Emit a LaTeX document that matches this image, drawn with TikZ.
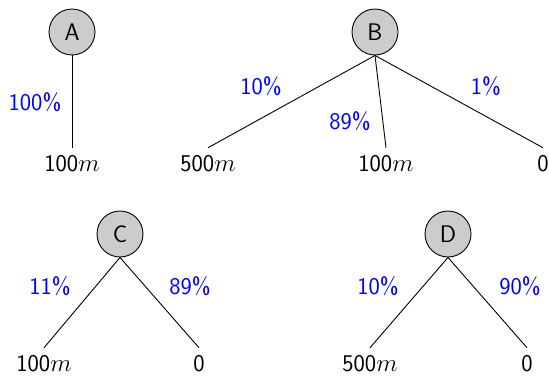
\documentclass[tikz,border=0pt]{standalone}
\begin{document}
\begin{tikzpicture}[x=1pt,y=-1pt,
  every node/.style={font=\fontsize{24pt}{29pt}\selectfont\sffamily},
  chance/.style={circle,draw,fill=black!20,line width=0.9pt,minimum size=46pt,inner sep=0pt},
  leaf/.style={inner sep=0pt,text height=15.5pt,text depth=0pt,outer xsep=0pt,outer ysep=8.5pt},
  prob/.style={text=blue,inner sep=0pt},
  edge/.style={line width=0.9pt}]
\useasboundingbox (0,0) rectangle (549,375);
% A
\node[chance] (A) at (72,32) {A};
\node[leaf] (a1) at (72,164) {100$m$};
\draw[edge] (A.south) -- (a1.north);
\node[prob] (pa1) at (35,102) {100\%};
% B
\node[chance] (B) at (375,32) {B};
\node[leaf] (b1) at (208,164) {500$m$};
\node[leaf] (b2) at (386,164) {100$m$};
\node[leaf] (b3) at (543,164) {0};
\draw[edge] (B.south) -- (b1.north);
\draw[edge] (B.south) -- (b2.north);
\draw[edge] (B.south) -- (b3.north);
\node[prob] (pb1) at (261,86) {10\%};
\node[prob] (pb2) at (350,121) {89\%};
\node[prob] (pb3) at (486,86) {1\%};
% C
\node[chance] (C) at (120,234) {C};
\node[leaf] (c1) at (44,364) {100$m$};
\node[leaf] (c2) at (199,364) {0};
\draw[edge] (C.south) -- (c1.north);
\draw[edge] (C.south) -- (c2.north);
\node[prob] (pc1) at (50,286) {11\%};
\node[prob] (pc2) at (190,286) {89\%};
% D
\node[chance] (D) at (448,234) {D};
\node[leaf] (d1) at (370,364) {500$m$};
\node[leaf] (d2) at (527,364) {0};
\draw[edge] (D.south) -- (d1.north);
\draw[edge] (D.south) -- (d2.north);
\node[prob] (pd1) at (378,286) {10\%};
\node[prob] (pd2) at (520,286) {90\%};
\end{tikzpicture}
\end{document}
